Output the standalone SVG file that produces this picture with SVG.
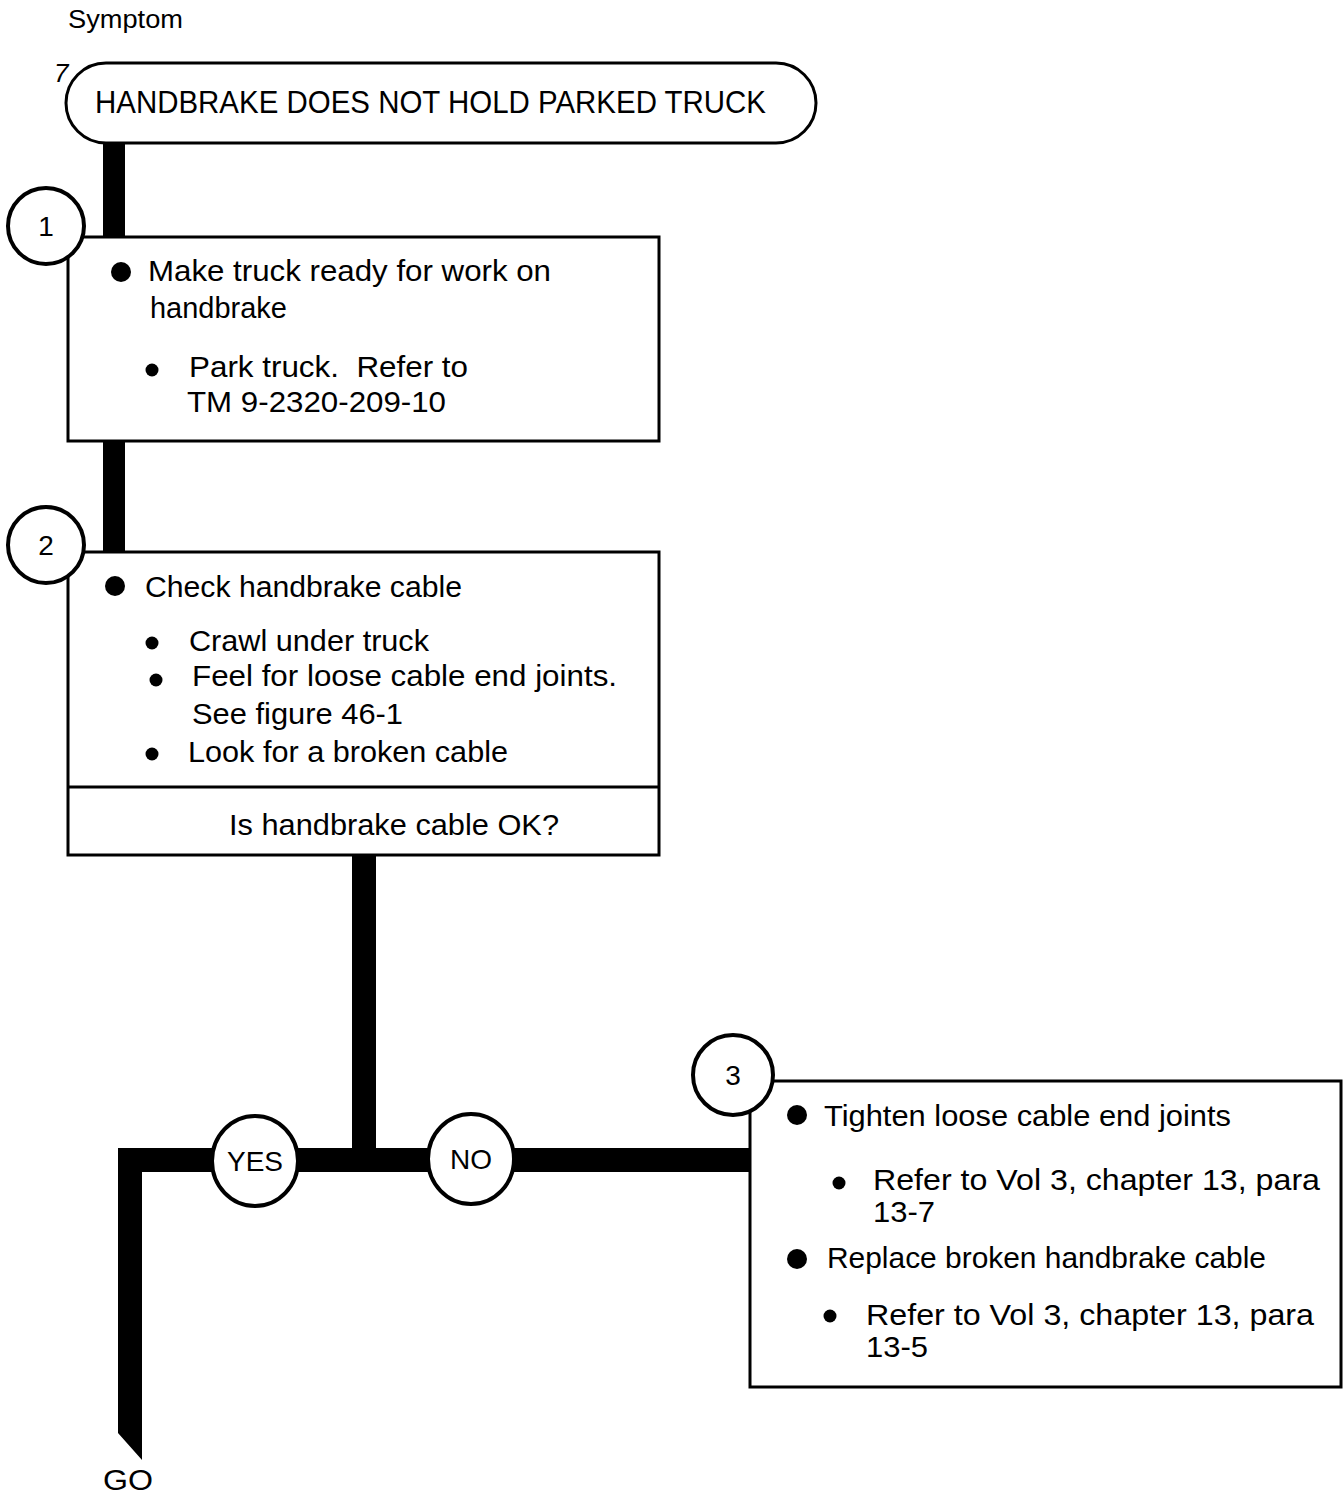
<svg xmlns="http://www.w3.org/2000/svg" width="1343" height="1494" viewBox="0 0 1343 1494">
<style>
text{font-family:"Liberation Sans",Arial,sans-serif;fill:#000}
.b{font-size:30px}
.box{fill:#fff;stroke:#000;stroke-width:3}
.num{fill:#fff;stroke:#000;stroke-width:4}
.n{font-size:28px;text-anchor:middle}
.bar{fill:#000}
</style>
<rect width="1343" height="1494" fill="#fff"/>
<text x="68" y="28" font-size="26" textLength="115" lengthAdjust="spacingAndGlyphs">Symptom</text>
<text x="54" y="82" font-size="26" font-style="italic">7</text>
<g id="connectors">
<rect class="bar" x="103" y="141" width="22" height="98"/>
<rect class="bar" x="103" y="440" width="22" height="114"/>
<rect class="bar" x="352" y="853" width="24" height="300"/>
<polygon class="bar" points="118,1148 752,1148 752,1172 142,1172 142,1460 118,1433"/>
</g>
<g id="symptom">
<rect class="box" x="66" y="63" width="750" height="80" rx="40" ry="40"/>
<text x="95" y="113" font-size="32" textLength="671" lengthAdjust="spacingAndGlyphs">HANDBRAKE DOES NOT HOLD PARKED TRUCK</text>
</g>
<g id="step1">
<rect class="box" x="68" y="237" width="591" height="204"/>
<circle class="num" cx="46" cy="226" r="38"/>
<text class="n" x="46" y="236">1</text>
<circle cx="121" cy="272" r="10"/>
<text class="b" x="148" y="281" textLength="403" lengthAdjust="spacingAndGlyphs">Make truck ready for work on</text>
<text class="b" x="150" y="318" textLength="137" lengthAdjust="spacingAndGlyphs">handbrake</text>
<circle cx="152" cy="370" r="6.5"/>
<text class="b" x="189" y="377" textLength="279" lengthAdjust="spacingAndGlyphs" xml:space="preserve">Park truck.  Refer to</text>
<text class="b" x="187" y="412" textLength="259" lengthAdjust="spacingAndGlyphs">TM 9-2320-209-10</text>
</g>
<g id="step2">
<rect class="box" x="68" y="552" width="591" height="303"/>
<line x1="68" y1="787" x2="659" y2="787" stroke="#000" stroke-width="3"/>
<circle class="num" cx="46" cy="545" r="38"/>
<text class="n" x="46" y="555">2</text>
<circle cx="115" cy="586" r="10"/>
<text class="b" x="145" y="597" textLength="317" lengthAdjust="spacingAndGlyphs">Check handbrake cable</text>
<circle cx="152" cy="643" r="6.5"/>
<text class="b" x="189" y="651" textLength="240" lengthAdjust="spacingAndGlyphs">Crawl under truck</text>
<circle cx="156" cy="680" r="6.5"/>
<text class="b" x="192" y="686" textLength="425" lengthAdjust="spacingAndGlyphs">Feel for loose cable end joints.</text>
<text class="b" x="192" y="724" textLength="211" lengthAdjust="spacingAndGlyphs">See figure 46-1</text>
<circle cx="152" cy="754" r="6.5"/>
<text class="b" x="188" y="762" textLength="320" lengthAdjust="spacingAndGlyphs">Look for a broken cable</text>
<text class="b" x="229" y="835" textLength="330" lengthAdjust="spacingAndGlyphs">Is handbrake cable OK?</text>
</g>
<g id="yes">
<ellipse class="num" cx="255" cy="1161" rx="43" ry="45"/>
<text class="n" x="255" y="1171">YES</text>
</g>
<g id="no">
<ellipse class="num" cx="471" cy="1159" rx="43" ry="45"/>
<text class="n" x="471" y="1169">NO</text>
</g>
<g id="step3">
<rect class="box" x="750" y="1081" width="591" height="306"/>
<circle class="num" cx="733" cy="1075" r="40"/>
<text class="n" x="733" y="1085">3</text>
<circle cx="797" cy="1115" r="10"/>
<text class="b" x="824" y="1126" textLength="407" lengthAdjust="spacingAndGlyphs">Tighten loose cable end joints</text>
<circle cx="839" cy="1183" r="6.5"/>
<text class="b" x="873" y="1190" textLength="447" lengthAdjust="spacingAndGlyphs">Refer to Vol 3, chapter 13, para</text>
<text class="b" x="873" y="1222" textLength="62" lengthAdjust="spacingAndGlyphs">13-7</text>
<circle cx="797" cy="1259" r="10"/>
<text class="b" x="827" y="1268" textLength="439" lengthAdjust="spacingAndGlyphs">Replace broken handbrake cable</text>
<circle cx="830" cy="1316" r="6.5"/>
<text class="b" x="866" y="1325" textLength="448" lengthAdjust="spacingAndGlyphs">Refer to Vol 3, chapter 13, para</text>
<text class="b" x="866" y="1357" textLength="62" lengthAdjust="spacingAndGlyphs">13-5</text>
</g>
<g id="go">
<text x="103" y="1490" font-size="30" textLength="50" lengthAdjust="spacingAndGlyphs">GO</text>
</g>
</svg>
